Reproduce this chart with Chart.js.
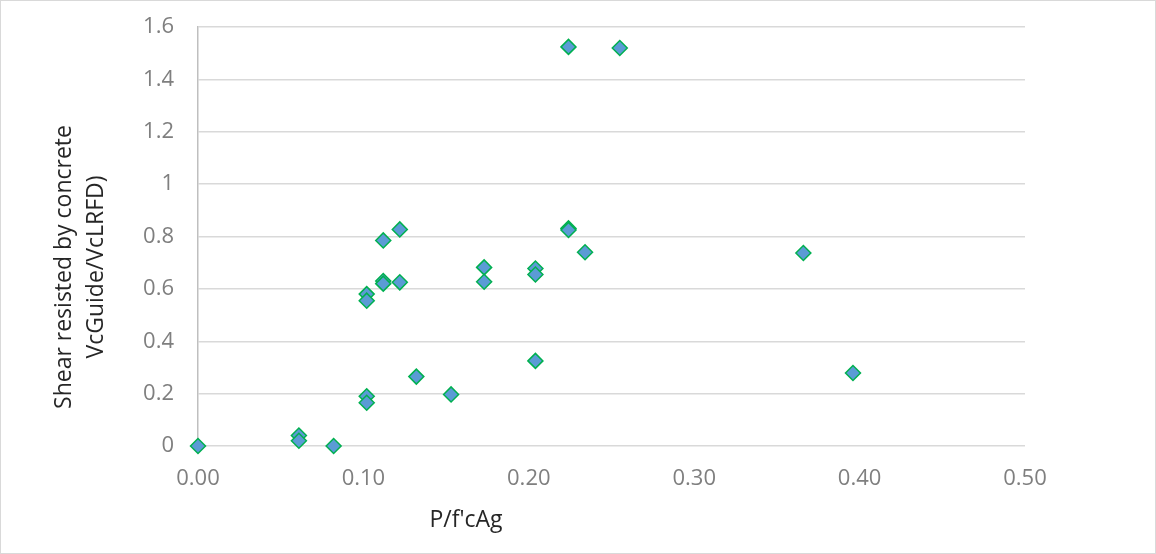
<!DOCTYPE html>
<html>
<head>
<meta charset="utf-8">
<script src="https://cdn.jsdelivr.net/npm/chart.js@4/dist/chart.umd.min.js"></script>
<style>
  html, body { margin: 0; padding: 0; background: #fff; }
  #wrap { width: 1156px; height: 554px; }
</style>
</head>
<body>
<div id="wrap"><canvas id="chart" width="1156" height="554"></canvas></div>
<script>
// P/f'cAg
const ratio = [0.000, 0.061, 0.061, 0.082, 0.102, 0.102, 0.102, 0.102, 0.112, 0.112, 0.112, 0.122, 0.122,
  0.132, 0.153, 0.173, 0.173, 0.204, 0.204, 0.204, 0.224, 0.224, 0.234, 0.224, 0.255, 0.366, 0.396];
// VcGuide/VcLRFD
const shear = [0.00, 0.04, 0.02, 0.00, 0.58, 0.555, 0.19, 0.165, 0.785, 0.63, 0.62, 0.827, 0.625,
  0.265, 0.197, 0.682, 0.627, 0.678, 0.655, 0.325, 0.831, 0.825, 0.74, 1.524, 1.52, 0.737, 0.279];

const xTicks = [0, 0.1, 0.2, 0.3, 0.4, 0.5];
const yTitle = ["Shear resisted by concrete", "VcGuide/VcLRFD)"];
const xTitle = "P/f'cAg";

const points = ratio.map((x, i) => ({ x: x, y: shear[i] }));

// white background + thin grey frame like the Excel chart box
const frame = {
  id: 'frame',
  beforeDraw(chart) {
    const c = chart.ctx;
    c.save();
    c.fillStyle = '#fff';
    c.fillRect(0, 0, chart.width, chart.height);
    c.strokeStyle = '#D9D9D9';
    c.lineWidth = 1;
    c.strokeRect(0.5, 0.5, chart.width - 1, chart.height - 1);
    c.restore();
  }
};

// axis titles are not centred on the plot area in the original, so place them by hand
const axisTitles = {
  id: 'axisTitles',
  afterDraw(chart) {
    const c = chart.ctx;
    c.save();
    c.fillStyle = '#262626';
    c.font = "23px 'Open Sans', sans-serif";
    c.textAlign = 'center';
    c.textBaseline = 'alphabetic';
    c.fillText(xTitle, 466, 527);

    c.translate(0, 267);
    c.rotate(-Math.PI / 2);
    c.textBaseline = 'middle';
    c.fillText(yTitle[0], 0, 64);
    c.fillText(yTitle[1], 0, 96);
    c.restore();
  }
};

const tickFont = { family: "'Open Sans', sans-serif", size: 22 };

new Chart(document.getElementById("chart").getContext("2d"), {
  type: "scatter",
  data: {
    datasets: [{
      label: "VcGuide/VcLRFD",
      data: points,
      clip: false,
      pointStyle: "rectRot",
      pointRadius: 7.5,
      pointHoverRadius: 7.5,
      backgroundColor: "#5B9BD5",
      borderColor: "#00B050",
      borderWidth: 1.5
    }]
  },
  options: {
    responsive: false,
    animation: false,
    layout: { padding: { left: 0, right: 131, top: 27, bottom: 0 } },
    plugins: {
      legend: { display: false },
      tooltip: { enabled: false }
    },
    scales: {
      x: {
        type: "linear",
        min: 0,
        max: 0.5,
        afterBuildTicks: (scale) => { scale.ticks = xTicks.map(v => ({ value: v })); },
        afterFit: (scale) => {
          scale.height = 554 - 446;
          scale.paddingLeft = 0;
          scale.paddingRight = 0;
        },
        grid: { display: false, drawTicks: false },
        border: { display: false },
        ticks: {
          color: "#7F7F7F",
          font: tickFont,
          padding: 20,
          callback: (v) => Number(v).toFixed(2)
        }
      },
      y: {
        min: 0,
        max: 1.6,
        ticks: {
          stepSize: 0.2,
          color: "#7F7F7F",
          font: tickFont,
          padding: 24,
          callback: (v) => String(Number(Number(v).toFixed(1)))
        },
        afterFit: (scale) => {
          scale.width = 198;
          scale.paddingTop = 0;
          scale.paddingBottom = 0;
        },
        grid: { color: "#D9D9D9", lineWidth: 1.5, drawTicks: false },
        border: { display: true, color: "#BFBFBF", width: 1.5 }
      }
    }
  },
  plugins: [frame, axisTitles]
});
</script>
</body>
</html>
